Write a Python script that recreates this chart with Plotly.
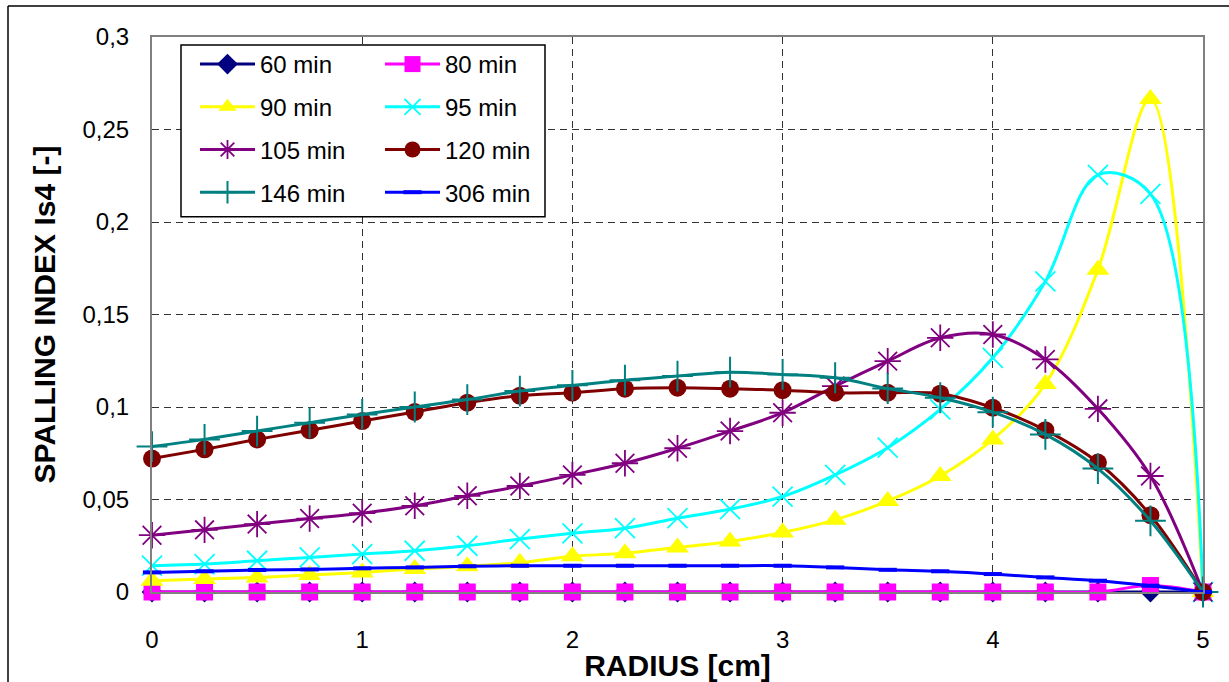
import plotly.graph_objects as go

# ---------------- data ----------------
radius = [0, 0.25, 0.5, 0.75, 1, 1.25, 1.5, 1.75, 2, 2.25, 2.5, 2.75,
          3, 3.25, 3.5, 3.75, 4, 4.25, 4.5, 4.75, 5]

s60 = [0, 0, 0, 0, 0, 0, 0, 0, 0, 0, 0, 0, 0, 0, 0, 0, 0, 0, 0, 0, 0]
s80 = [0, 0, 0, 0, 0, 0, 0, 0, 0, 0, 0, 0, 0, 0, 0, 0, 0, 0, 0, 0.0035, 0]
s90 = [0.0061, 0.0070, 0.0079, 0.0092, 0.0106, 0.0124, 0.0139, 0.0158, 0.0193,
       0.0210, 0.0241, 0.0273, 0.0322, 0.0390, 0.0492, 0.0627, 0.0825, 0.1125,
       0.1742, 0.2665, 0]
s95 = [0.0142, 0.0151, 0.0169, 0.0187, 0.0205, 0.0223, 0.0250, 0.0286, 0.0317,
       0.0345, 0.0399, 0.0448, 0.0516, 0.0633, 0.0780, 0.0987, 0.1266, 0.1679,
       0.2255, 0.2152, 0]
s105 = [0.0307, 0.0336, 0.0367, 0.0397, 0.0426, 0.0466, 0.0520, 0.0573, 0.0633,
        0.0696, 0.0777, 0.0870, 0.0969, 0.1113, 0.1248, 0.1374, 0.1392, 0.1257,
        0.0990, 0.0627, 0]
s120 = [0.0721, 0.0771, 0.0825, 0.0874, 0.0924, 0.0973, 0.1023, 0.1061, 0.1077,
        0.1099, 0.1104, 0.1099, 0.1091, 0.1077, 0.1077, 0.1072, 0.0996, 0.0875,
        0.0700, 0.0415, 0]
s146 = [0.0786, 0.0825, 0.0870, 0.0915, 0.0960, 0.1000, 0.1040, 0.1086, 0.1117,
        0.1145, 0.1167, 0.1188, 0.1176, 0.1158, 0.1100, 0.1050, 0.0972, 0.0852,
        0.0667, 0.0385, 0]
s306 = [0.0106, 0.0112, 0.0119, 0.0122, 0.0128, 0.0133, 0.0139, 0.0142, 0.0142,
        0.0142, 0.0142, 0.0142, 0.0142, 0.0133, 0.0120, 0.0112, 0.0097, 0.0079,
        0.0061, 0.0034, 0]

y_ticks = [0, 0.05, 0.1, 0.15, 0.2, 0.25, 0.3]
x_ticks = [0, 1, 2, 3, 4, 5]

FONT = "Liberation Sans, Arial, sans-serif"

series = [
    # name, values, color, symbol, size, marker line width, legend
    ("60 min", s60, "#000080", "diamond", 16, 0, "legend"),
    ("80 min", s80, "#FF00FF", "square", 17, 0, "legend2"),
    ("90 min", s90, "#FFFF00", "triangle-up", 20, 0, "legend"),
    ("95 min", s95, "#00FFFF", "x-thin-open", 20, 1.8, "legend2"),
    ("105 min", s105, "#800080", "asterisk-open", 22, 1.8, "legend"),
    ("120 min", s120, "#800000", "circle", 18, 0, "legend2"),
    ("146 min", s146, "#008080", "cross-thin-open", 22, 2, "legend"),
    ("306 min", s306, "#0000FF", "line-ew-open", 13, 4, "legend2"),
]

fig = go.Figure()
for name, vals, col, sym, size, lw, leg in series:
    marker = dict(symbol=sym, size=size, color=col)
    if lw > 0:
        marker["line"] = dict(color=col, width=lw)
    fig.add_trace(go.Scatter(
        x=radius, y=vals, name=name, mode="lines+markers",
        line=dict(color=col, width=3, shape="spline", smoothing=1.0),
        marker=marker, legend=leg, legendgroup=name, cliponaxis=False,
    ))

W, H = 1229, 682
L, R, T, B = 152, 26, 37, 89.5
pw, ph = W - L - R, H - T - B


def px(xp):
    return (xp - L) / pw


def py(yp):
    return (H - B - yp) / ph


legend_common = dict(
    font=dict(family=FONT, size=24, color="black"),
    bgcolor="rgba(0,0,0,0)", borderwidth=0,
    tracegroupgap=8.5, itemwidth=55, itemsizing="trace",
    xanchor="left", yanchor="top", orientation="v",
)

fig.update_layout(
    width=W, height=H,
    margin=dict(l=L, r=R, t=T, b=B, pad=0, autoexpand=False),
    paper_bgcolor="white", plot_bgcolor="white",
    separators=", ",
    font=dict(family=FONT, size=24, color="black"),
    showlegend=True,
    legend=dict(x=px(195), y=py(42), **legend_common),
    legend2=dict(x=px(380), y=py(42), **legend_common),
    xaxis=dict(
        range=[0, 5], tickvals=x_ticks, showgrid=True, automargin=False,
        gridcolor="#333333", griddash="7px,5px", gridwidth=1,
        zeroline=False, showline=True, linecolor="#808080", linewidth=2,
        mirror=True, ticks="", ticklabelstandoff=25,
        tickfont=dict(family=FONT, size=24, color="black"),
        title=dict(text="RADIUS [cm]", standoff=6,
                   font=dict(family=FONT, size=30, color="black", weight="bold")),
    ),
    yaxis=dict(
        range=[0, 0.3], tickvals=y_ticks, showgrid=True, automargin=False,
        gridcolor="#333333", griddash="7px,5px", gridwidth=1,
        zeroline=False, showline=True, linecolor="#808080", linewidth=2,
        mirror=True, ticks="", ticklabelstandoff=16,
        tickfont=dict(family=FONT, size=24, color="black"),
        title=dict(text="SPALLING INDEX Is4 [-]", standoff=18,
                   font=dict(family=FONT, size=30, color="black", weight="bold")),
    ),
    shapes=[
        # legend box
        dict(type="rect", xref="paper", yref="paper",
             x0=px(181), x1=px(545), y0=py(217), y1=py(45),
             line=dict(color="black", width=1.5), fillcolor="white", layer="above"),
        # outer chart border (left and top edges)
        dict(type="line", xref="paper", yref="paper",
             x0=px(8), x1=px(8), y0=py(6), y1=py(690),
             line=dict(color="black", width=1.5)),
        dict(type="line", xref="paper", yref="paper",
             x0=px(8), x1=px(1240), y0=py(6), y1=py(6),
             line=dict(color="black", width=1.5)),
    ],
)

fig.write_html("out.html")
